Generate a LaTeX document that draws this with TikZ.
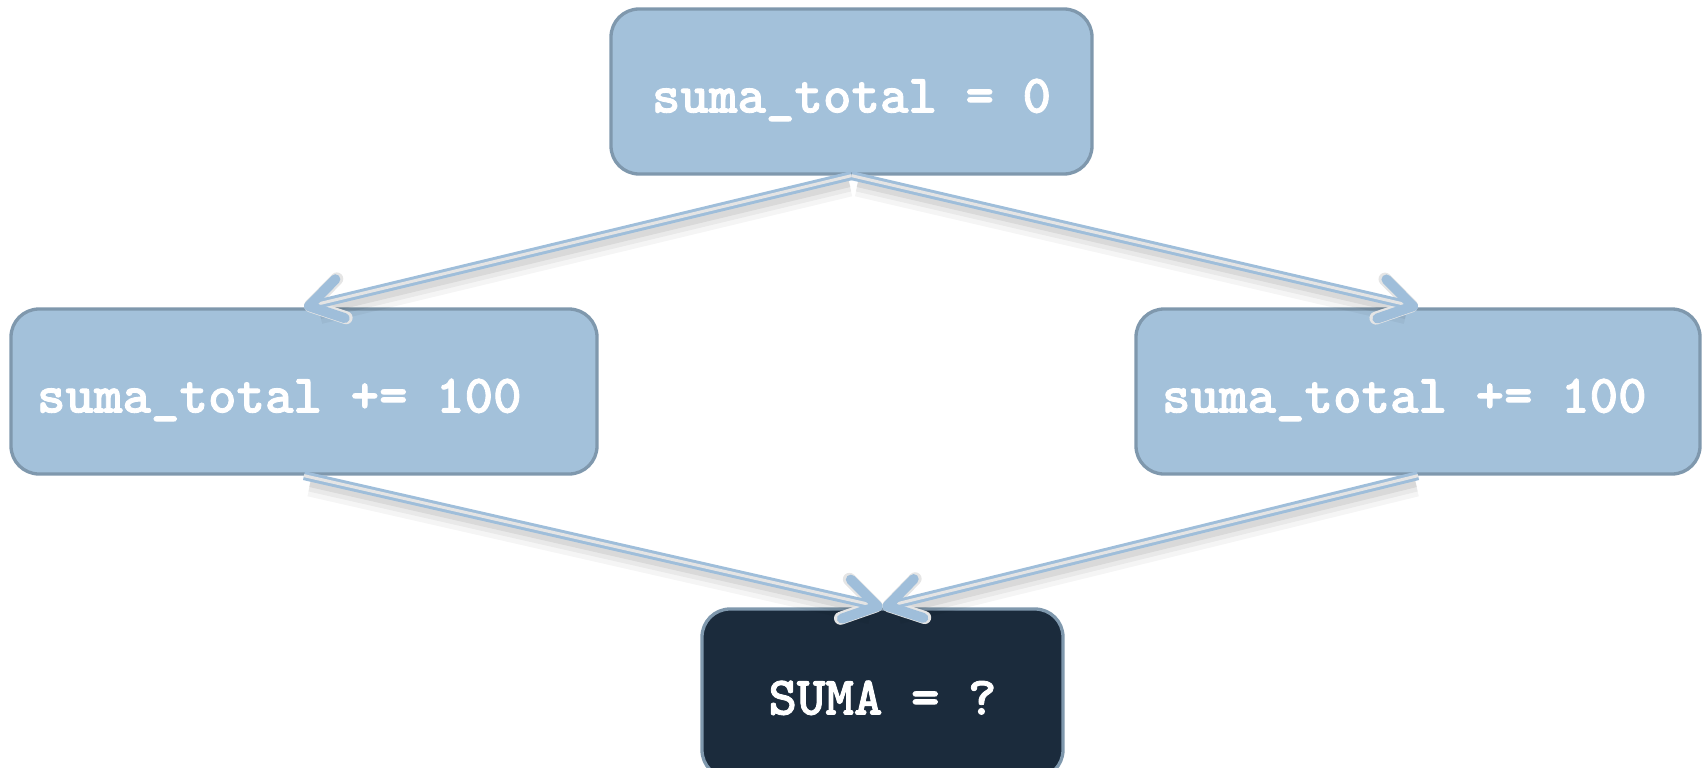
\documentclass[tikz,border=0pt]{standalone}
\usepackage{fontspec}
\newfontfamily\boxfont{lmmonolt10-bold.otf}[FakeBold=1.6]
\usetikzlibrary{arrows.meta,decorations.markings}
\definecolor{boxfill}{HTML}{A3C1DA}
\definecolor{boxedge}{HTML}{7F98AD}
\definecolor{darkfill}{HTML}{1B2B3C}
\definecolor{arrowblue}{HTML}{9FBEDA}
\definecolor{arrowmid}{HTML}{E4E4E4}
\tikzset{
  box/.style={draw=boxedge, line width=3.3pt, fill=boxfill, rounded corners=28pt,
    text=white, font=\boxfont\fontsize{54.3}{65}\selectfont, inner sep=0pt,
    text height=42pt, text depth=0pt, minimum height=165pt},
  darkbox/.style={box, fill=darkfill, minimum height=169pt},
  conn/.style={draw=arrowblue, line width=3pt, double=arrowmid, double distance=3pt,
    shorten >=12pt},
  shadeA/.style={draw=black, draw opacity=0.04, line width=22pt, shorten >=14pt, shorten <=4pt,
    transform canvas={shift={(2pt,-9pt)}}},
  shadeB/.style={draw=black, draw opacity=0.05, line width=14pt, shorten >=14pt, shorten <=4pt,
    transform canvas={shift={(2pt,-8pt)}}},
  shadeC/.style={draw=black, draw opacity=0.07, line width=7pt, shorten >=14pt, shorten <=4pt,
    transform canvas={shift={(2pt,-7pt)}}},
  tipmark/.style={decoration={markings, mark=at position 1 with
    {\arrow{Straight Barb[length=32pt,width=40pt,line width=10pt,round,color=arrowblue]}}},
    decorate},
  tipshade/.style={decoration={markings, mark=at position 1 with
    {\arrow{Straight Barb[length=32pt,width=40pt,line width=13pt,round,color=black!10]}}},
    decorate, transform canvas={shift={(2pt,-6pt)}}},
}
\begin{document}
\begin{tikzpicture}[x=1pt,y=1pt]
\useasboundingbox (0,0) rectangle (1706,-768);
\node[box, minimum width=481pt] (top) at (851.5,-91.5) {suma\_total = 0};
\node[box, minimum width=586pt] (left) at (304,-391.5) {\makebox[534pt][l]{suma\_total += 100}};
\node[box, minimum width=564pt] (right) at (1418,-391.5) {\makebox[512pt][l]{suma\_total += 100}};
\node[darkbox, minimum width=361pt] (bot) at (882.5,-693.5) {SUMA = ?};
% shadows
\foreach \a/\b in {top.south/left.north, top.south/right.north, left.south/bot.north, right.south/bot.north}{
  \draw[shadeA] (\a) -- (\b);
  \draw[shadeB] (\a) -- (\b);
  \draw[shadeC] (\a) -- (\b);
  \path[tipshade] (\a) -- (\b);
}
% connectors
\foreach \a/\b in {top.south/left.north, top.south/right.north, left.south/bot.north, right.south/bot.north}{
  \draw[conn] (\a) -- (\b);
  \path[tipmark] (\a) -- (\b);
}
\end{tikzpicture}
\end{document}
